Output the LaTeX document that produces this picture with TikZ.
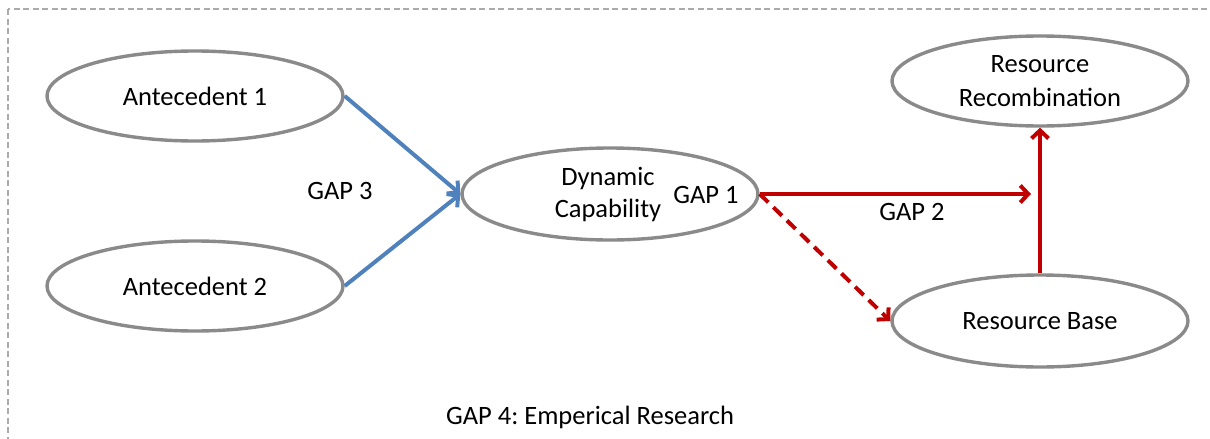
\documentclass[tikz,border=0pt]{standalone}
\usepackage{fontspec}
\setmainfont{Carlito}
\frenchspacing
\usetikzlibrary{shapes.geometric,arrows.meta}
\definecolor{ringgray}{HTML}{8A8A8A}
\definecolor{linkblue}{HTML}{4F81BD}
\definecolor{linkred}{HTML}{C00000}
\definecolor{framegray}{HTML}{ABABAB}
\tikzset{
  oval/.style={ellipse, draw=ringgray, line width=3.4pt, fill=white,
    minimum width=296pt, minimum height=90pt, inner sep=0pt, align=center,
    font=\fontsize{26.5}{33}\selectfont},
  lbl/.style={font=\fontsize{26.5}{33}\selectfont, inner sep=0pt},
  bluelink/.style={draw=linkblue, line width=4pt,
    -{Straight Barb[length=8pt,width=17pt,line width=4pt]}},
  redlink/.style={draw=linkred, line width=4pt,
    -{Straight Barb[length=8pt,width=17pt,line width=4pt]}},
}
\begin{document}
\begin{tikzpicture}[x=1pt,y=-1pt]
\useasboundingbox (0,0) rectangle (1210,439);
\clip (0,0) rectangle (1210,439);
% frame
\draw[framegray, line width=2pt, dash pattern=on 6pt off 3.5pt] (8,9) rectangle (1230,460);
% concepts
\node[oval] (a1) at (195,96) {Antecedent 1};
\node[oval] (a2) at (195,286) {Antecedent 2};
\node[oval, minimum height=92pt] (dc) at (610,194) {};
\node[lbl, align=center, font=\fontsize{26.5}{32}\selectfont] (dct) at (608,195) {Dynamic\\Capability};
\node[lbl] (g1) at (706,195) {GAP 1};
\node[oval] (rr) at (1040,81) {Resource\\[1pt]Recombination};
\node[oval, minimum height=92pt] (rb) at (1040,321) {Resource Base};
\coordinate (tip2) at (1031,194);
% links
\draw[bluelink] (a1.east) -- (dc.west);
\draw[bluelink] (a2.east) -- (dc.west);
\draw[redlink] (dc.east) -- (tip2);
\draw[redlink, dash pattern=on 12pt off 7pt] (dc.east) -- (rb.west);
\draw[redlink] (rb.north) -- (rr.south);
% gap labels
\node[lbl] (g3) at (340,191) {GAP 3};
\node[lbl] (g2) at (912,212) {GAP 2};
\node[lbl] (g4) at (590,417) {GAP 4: Emperical Research};
\end{tikzpicture}
\end{document}
